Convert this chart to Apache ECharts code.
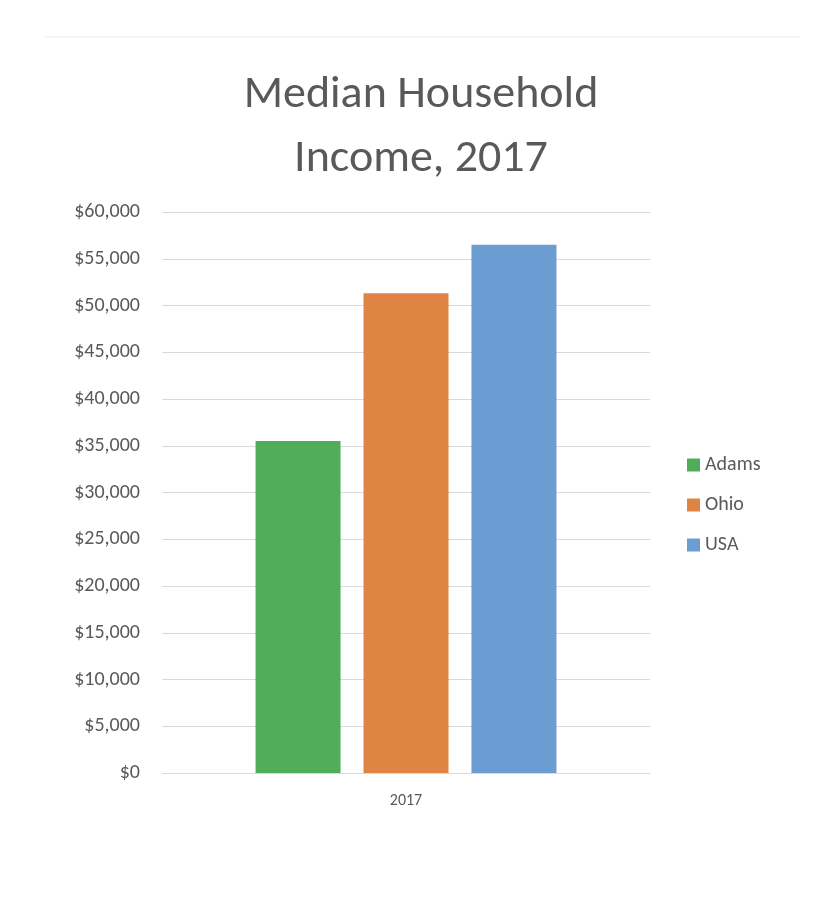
<!DOCTYPE html>
<html><head><meta charset="utf-8">
<script src="https://cdn.jsdelivr.net/npm/echarts@6/dist/echarts.min.js"></script>
<style>html,body{margin:0;padding:0;background:#fff}#c{width:821px;height:905px}</style>
</head><body><div id="c"></div>
<script>
const categories = ['2017'];
const seriesNames = ['Adams', 'Ohio', 'USA'];
const adams = [35500];
const ohio = [51300];
const usa = [56500];
const colors = ['#52ad5b', '#e08443', '#6b9dd2'];
const chart = echarts.init(document.getElementById('c'));
const font = 'Calibri, Carlito, "Open Sans", "Noto Sans", sans-serif';
chart.setOption({
  animation: false,
  graphic: [{type:'line', shape:{x1:45,y1:37,x2:800,y2:37}, style:{stroke:'#eeeeee',lineWidth:1}}],
  title: {text: 'Median Household\nIncome, 2017', left: 416, textAlign: 'center', top: 58,
    textStyle: {fontSize: 46, fontWeight: 'normal', color: '#595959', fontFamily: font, lineHeight: 64}},
  legend: {orient: 'vertical', left: 682, top: 450, itemWidth: 13, itemHeight: 13, itemGap: 20,
    icon: 'rect', textStyle: {fontSize: 20, color: '#595959', fontFamily: font}},
  grid: {left: 162, right: 171, top: 212, bottom: 132},
  xAxis: {type: 'category', data: categories,
    axisLine: {lineStyle: {color: '#d9d9d9'}}, axisTick: {show: false},
    axisLabel: {fontSize: 16, color: '#595959', margin: 20, fontFamily: font}},
  yAxis: {type: 'value', min: 0, max: 60000, interval: 5000,
    axisLine: {show: false}, axisTick: {show: false},
    splitLine: {lineStyle: {color: '#d9d9d9'}},
    axisLabel: {fontSize: 20, color: '#595959', margin: 22, fontFamily: font,
      formatter: v => '$' + v.toLocaleString('en-US')}},
  series: [
    {name: seriesNames[0], type: 'bar', data: adams, barWidth: 85, barGap: '27%', itemStyle: {color: colors[0]}},
    {name: seriesNames[1], type: 'bar', data: ohio, barWidth: 85, barGap: '27%', itemStyle: {color: colors[1]}},
    {name: seriesNames[2], type: 'bar', data: usa, barWidth: 85, barGap: '27%', itemStyle: {color: colors[2]}}
  ]
});
</script></body></html>
